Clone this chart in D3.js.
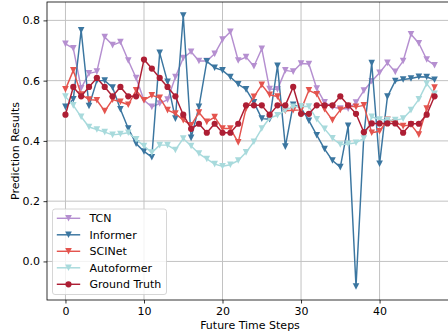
<!DOCTYPE html>
<html>
<head>
<meta charset="utf-8">
<script src="https://cdn.jsdelivr.net/npm/d3@7"></script>
<style>
  html, body { margin: 0; padding: 0; background: #ffffff; }
  svg { display: block; font-family: "DejaVu Sans", sans-serif; }
</style>
</head>
<body>
<svg id="chart" width="448" height="335"></svg>
<script>
// ---------- data ----------
const steps = d3.range(48);
const seriesNames = ["TCN", "Informer", "SCINet", "Autoformer", "Ground Truth"];
const tcn = [0.722,0.707,0.575,0.624,0.630,0.745,0.718,0.728,0.667,0.609,0.535,0.513,0.524,0.537,0.612,0.675,0.696,0.665,0.665,0.689,0.736,0.762,0.667,0.678,0.648,0.706,0.572,0.571,0.634,0.630,0.657,0.655,0.574,0.528,0.513,0.507,0.507,0.527,0.567,0.598,0.626,0.659,0.629,0.665,0.754,0.724,0.670,0.651];
const informer = [0.513,0.538,0.767,0.516,0.600,0.600,0.577,0.505,0.441,0.391,0.365,0.346,0.692,0.596,0.474,0.816,0.410,0.513,0.664,0.643,0.634,0.612,0.588,0.571,0.528,0.474,0.472,0.649,0.381,0.520,0.510,0.467,0.419,0.373,0.335,0.313,0.450,-0.083,0.420,0.658,0.324,0.547,0.599,0.604,0.607,0.613,0.612,0.603];
const scinet = [0.571,0.634,0.554,0.537,0.535,0.499,0.537,0.530,0.520,0.568,0.535,0.551,0.543,0.502,0.491,0.469,0.452,0.494,0.463,0.479,0.441,0.441,0.395,0.508,0.546,0.586,0.553,0.547,0.500,0.502,0.503,0.568,0.555,0.505,0.469,0.503,0.516,0.513,0.518,0.427,0.432,0.470,0.462,0.449,0.454,0.421,0.507,0.577];
const autoformer = [0.547,0.518,0.480,0.446,0.438,0.429,0.420,0.423,0.427,0.405,0.383,0.361,0.386,0.386,0.370,0.408,0.383,0.358,0.340,0.323,0.316,0.321,0.335,0.362,0.397,0.441,0.476,0.485,0.502,0.513,0.515,0.514,0.472,0.440,0.409,0.388,0.390,0.394,0.408,0.480,0.471,0.469,0.469,0.474,0.502,0.538,0.590,0.556];
const groundTruth = [0.487,0.579,0.548,0.579,0.609,0.579,0.548,0.579,0.548,0.548,0.670,0.640,0.609,0.579,0.548,0.487,0.440,0.457,0.427,0.457,0.427,0.427,0.457,0.518,0.518,0.518,0.487,0.518,0.518,0.579,0.490,0.490,0.518,0.518,0.518,0.548,0.518,0.490,0.429,0.458,0.458,0.458,0.458,0.427,0.457,0.457,0.487,0.548];
const xTicks = [0, 10, 20, 30, 40];
const yTicks = [0.0, 0.2, 0.4, 0.6, 0.8];
const xLabel = "Future Time Steps";
const yLabel = "Prediction Results";

// ---------- styling ----------
const colors = ["#b58fd0", "#3b76a0", "#e4544e", "#a8dadc", "#ad1e34"];
const markers = ["down", "down", "down", "down", "circle"];
const allSeries = [tcn, informer, scinet, autoformer, groundTruth];

const svg = d3.select("#chart");
const pLeft = 47, pRight = 453, pTop = 2, pBottom = 300;
const fontSize = 11;

const x = d3.scaleLinear().domain([-2.35, 49.35]).range([pLeft, pRight]);
const y = d3.scaleLinear().domain([-0.128, 0.861]).range([pBottom, pTop]);

// grid
const grid = svg.append("g");
grid.selectAll("line.gx").data(xTicks).join("line")
  .attr("x1", d => x(d)).attr("x2", d => x(d))
  .attr("y1", pTop).attr("y2", pBottom)
  .attr("stroke", "#c2c2c2").attr("stroke-width", 1);
grid.selectAll("line.gy").data(yTicks).join("line")
  .attr("x1", pLeft).attr("x2", pRight)
  .attr("y1", d => y(d)).attr("y2", d => y(d))
  .attr("stroke", "#c2c2c2").attr("stroke-width", 1);

// series
const downTri = {
  draw(ctx, size) {
    const h = Math.sqrt(size) / 2;
    ctx.moveTo(0, h);
    ctx.lineTo(-h, -h);
    ctx.lineTo(h, -h);
    ctx.closePath();
  }
};
const line = d3.line().x((d, i) => x(steps[i])).y(d => y(d));
allSeries.forEach((vals, si) => {
  const g = svg.append("g");
  g.append("path").datum(vals)
    .attr("d", line)
    .attr("fill", "none")
    .attr("stroke", colors[si])
    .attr("stroke-width", 1.46)
    .attr("stroke-linejoin", "round");
  const sym = markers[si] === "circle"
    ? d3.symbol().type(d3.symbolCircle).size(Math.PI * 3.1 * 3.1)
    : d3.symbol().type(downTri).size(6.6 * 6.6);
  g.selectAll("path.m").data(vals).join("path")
    .attr("class", "m")
    .attr("d", sym)
    .attr("transform", (d, i) => `translate(${x(steps[i])},${y(d)})`)
    .attr("fill", colors[si]);
});

// axes
const xAxis = d3.axisBottom(x).tickValues(xTicks).tickFormat(d3.format("d"))
  .tickSize(3.5).tickPadding(3.5);
const yAxis = d3.axisLeft(y).tickValues(yTicks).tickFormat(d3.format(".1f"))
  .tickSize(3.5).tickPadding(3.5);
const gx = svg.append("g").attr("transform", `translate(0,${pBottom})`).call(xAxis);
const gy = svg.append("g").attr("transform", `translate(${pLeft},0)`).call(yAxis);
[gx, gy].forEach(g => {
  g.select(".domain").remove();
  g.selectAll(".tick line").attr("stroke", "#000").attr("stroke-width", 0.8);
  g.selectAll(".tick text").attr("fill", "#000")
    .style("font-family", "DejaVu Sans").style("font-size", fontSize + "px");
});

// spines
svg.append("rect")
  .attr("x", pLeft).attr("y", pTop)
  .attr("width", pRight - pLeft).attr("height", pBottom - pTop)
  .attr("fill", "none").attr("stroke", "#000").attr("stroke-width", 0.8);

// labels
svg.append("text")
  .attr("x", (pLeft + pRight) / 2).attr("y", 329)
  .attr("text-anchor", "middle")
  .style("font-size", fontSize + "px")
  .text(xLabel);
svg.append("text")
  .attr("transform", `translate(18.5,${(pTop + pBottom) / 2}) rotate(-90)`)
  .attr("text-anchor", "middle")
  .style("font-size", fontSize + "px")
  .text(yLabel);

// legend
const lg = svg.append("g");
lg.append("rect")
  .attr("x", 52.5).attr("y", 209).attr("width", 114).attr("height", 85.5)
  .attr("rx", 2.5).attr("fill", "#ffffff").attr("fill-opacity", 0.8)
  .attr("stroke", "#cccccc").attr("stroke-width", 0.8);
seriesNames.forEach((name, i) => {
  const cy = 218.3 + i * 16.5;
  const row = lg.append("g");
  row.append("line").attr("x1", 56.8).attr("x2", 80.2).attr("y1", cy).attr("y2", cy)
    .attr("stroke", colors[i]).attr("stroke-width", 1.46);
  const sym = markers[i] === "circle"
    ? d3.symbol().type(d3.symbolCircle).size(Math.PI * 3.1 * 3.1)
    : d3.symbol().type(downTri).size(6.6 * 6.6);
  row.append("path").attr("d", sym)
    .attr("transform", `translate(68.5,${cy})`).attr("fill", colors[i]);
  row.append("text").attr("x", 89.5).attr("y", cy + 4)
    .style("font-size", fontSize + "px").text(name);
});
</script>
</body>
</html>
